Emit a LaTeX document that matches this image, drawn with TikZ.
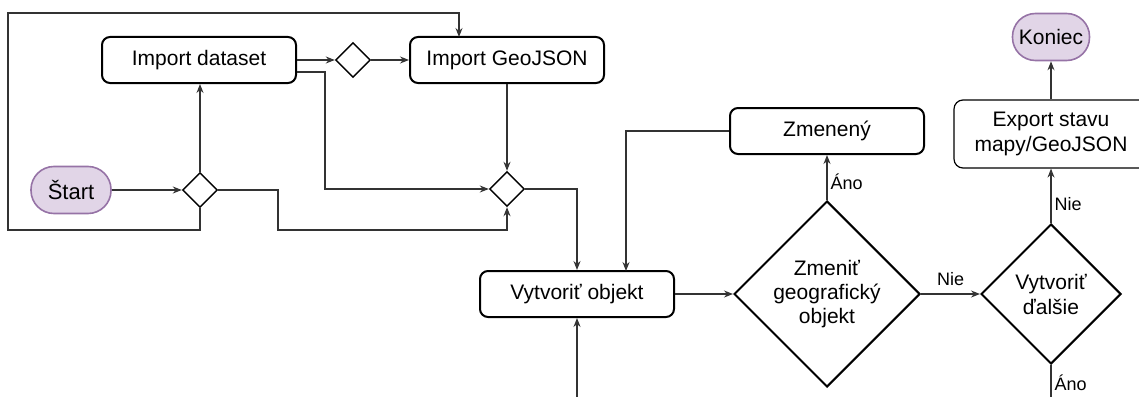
\documentclass[tikz,border=0pt]{standalone}
\usepackage{fontspec}
\setmainfont{Liberation Sans}
\usetikzlibrary{arrows.meta,shapes.geometric}
\definecolor{pfill}{HTML}{E1D5E7}
\definecolor{pline}{HTML}{9673A6}
\definecolor{conn}{HTML}{333333}
\begin{document}
\begin{tikzpicture}[x=1pt,y=-1pt,
  every node/.style={font=\fontsize{21}{24}\selectfont},
  box/.style={draw=black, line width=2pt, rounded corners=8pt, minimum width=194pt, minimum height=46pt, inner sep=0pt, align=center},
  thinbox/.style={draw=black, line width=1.2pt, rounded corners=9pt, minimum width=194pt, minimum height=68pt, inner sep=0pt, align=center, font=\fontsize{21}{25}\selectfont},
  term/.style={draw=pline, fill=pfill, line width=1.6pt, rounded corners=23pt, minimum height=47pt, inner sep=0pt},
  gate/.style={draw=black, diamond, line width=1.4pt, minimum width=35pt, minimum height=35pt, inner sep=0pt},
  bigdia/.style={draw=black, diamond, line width=2pt, inner sep=0pt, align=center},
  arr/.style={draw=conn, line width=1.2pt, -{Stealth[length=9pt,width=7pt,inset=3pt,fill=conn!70]}},
  lbl/.style={font=\fontsize{18}{20}\selectfont, inner sep=0pt}]
\useasboundingbox (0,0) rectangle (1139,396);
\clip (0,0) rectangle (1139,396);

% nodes
\node[term, minimum width=80pt, font=\fontsize{22}{24}\selectfont] (start) at (71,190) {Štart};
\node[gate] (d1) at (200,190) {};
\node[box] (dataset) at (199,60) {Import dataset};
\node[gate] (d2) at (353,60) {};
\node[box] (geo) at (507,60) {Import GeoJSON};
\node[gate] (d3) at (507,189) {};
\node[box] (vy) at (577,294) {Vytvoriť objekt};
\node[box] (zm) at (827,131) {Zmenený};
\node[bigdia, minimum width=186pt, minimum height=186pt] (zd) at (827,294) {Zmeniť\\geografický\\objekt};
\node[bigdia, minimum width=140pt, minimum height=140pt, font=\fontsize{21}{25}\selectfont] (vd) at (1051,294) {Vytvoriť\\ďalšie};
\node[thinbox] (ex) at (1051,134) {Export stavu\\mapy/GeoJSON};
\node[term, minimum width=77pt] (kon) at (1051,37) {Koniec};

\coordinate (bot1) at (577,400);
\coordinate (bot2) at (1051,400);

% connectors
\draw[arr] (start.east) -- (d1.west);
\draw[arr] (d1.north) -- (dataset.south -| d1.north);
\draw[arr] (d1.south) -- (200,230) -- (8,230) -- (8,13) -- (459,13) -- (459,37);
\draw[arr] (dataset.east) -- (d2.west);
\draw[arr] (d2.east) -- (geo.west);
\draw[arr] ([yshift=-12pt]dataset.east) -- (325,72) -- (325,189) -- (d3.west);
\draw[arr] (geo.south) -- (d3.north);
\draw[arr] (d1.east) -- (278,190) -- (278,230) -- (507,230) -- (d3.south);
\draw[arr] (d3.east) -- (577,189) -- (vy.north);
\draw[arr] (zm.west) -- (626,131) -- (626,271);
\draw[arr] (bot1) -- (vy.south);
\draw[arr] (vy.east) -- (zd.west);
\draw[arr] (zd.north) -- node[lbl, right=3pt, pos=0.4] {Áno} (zm.south);
\draw[arr] (zd.east) -- node[lbl, above=8pt, pos=0.5] {Nie} (vd.west);
\draw[arr] (vd.north) -- node[lbl, right=3pt, pos=0.35] {Nie} (ex.south);
\draw[arr] (ex.north) -- (kon.south);
\draw[draw=conn, line width=1.2pt] (vd.south) -- node[lbl, right=3pt, pos=0.5] {Áno} (bot2);
\end{tikzpicture}
\end{document}
